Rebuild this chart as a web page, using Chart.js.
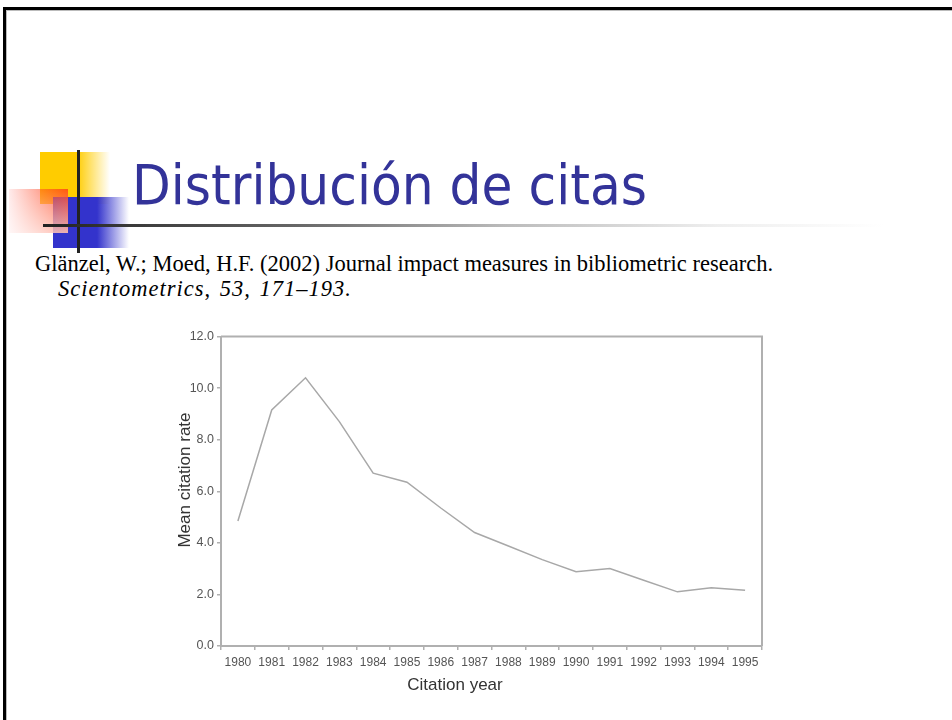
<!DOCTYPE html>
<html>
<head>
<meta charset="utf-8">
<script src="https://cdn.jsdelivr.net/npm/chart.js@4.4.0/dist/chart.umd.min.js"></script>
<style>
  html, body { margin: 0; padding: 0; background: #fff; overflow: hidden; }
  body { width: 952px; height: 720px; position: relative; }
  .frame { position: absolute; left: 3px; top: 7px; width: 1000px; height: 1000px; border: 3px solid #000; box-shadow: inset 1px 1px 0 #bbb; }
  .deco { position: absolute; }
  #yellow { left: 40px; top: 152px; width: 70px; height: 52px;
    background: linear-gradient(to right, #ffcc00 0%, #ffcc00 52%, rgba(255,204,0,0) 100%); }
  #blue { left: 53px; top: 197px; width: 76px; height: 51px;
    background: linear-gradient(to right, #3333cc 0%, #3333cc 58%, rgba(51,51,204,0) 100%); }
  #red { left: 9px; top: 189px; width: 59px; height: 44px;
    background: linear-gradient(to bottom, rgba(255,255,255,0) 0%, rgba(255,255,255,0.6) 100%),
                linear-gradient(to right, rgba(255,120,120,0.15) 0%, rgba(255,60,20,0.8) 100%); }
  #vline { left: 77px; top: 150px; width: 3px; height: 103px; background: #222; }
  #hline { left: 43px; top: 224px; width: 840px; height: 3px;
    background: linear-gradient(to right, #222 0%, #666 30%, #bbb 55%, #eee 80%, rgba(255,255,255,0) 100%); }
  #title { position: absolute; left: 132px; top: 158px; font-family: "DejaVu Sans", sans-serif;
    font-size: 55px; line-height: 55px; color: #333399; white-space: nowrap; transform-origin: 0 0; }
  .cite { position: absolute; font-family: "Liberation Serif", "Times New Roman", serif; font-size: 22.5px;
    color: #000; white-space: nowrap; line-height: 26px; }
  .axTitle { position: absolute; width: 200px; text-align: center; line-height: 20px;
    font-family: "Liberation Sans", Arial, sans-serif; font-size: 17px; color: #333; }
  #xTitle { left: 355px; top: 675px; }
  #yTitle { left: 85px; top: 470px; transform: rotate(-90deg); }
  #chartBox { position: absolute; left: 160px; top: 326px; width: 612px; height: 375px; }
</style>
</head>
<body>
<div class="frame"></div>
<div class="deco" id="yellow"></div>
<div class="deco" id="blue"></div>
<div class="deco" id="red"></div>
<div class="deco" id="vline"></div>
<div class="deco" id="hline"></div>
<div id="title">Distribución de citas</div>
<div class="cite" style="left:35px; top:251px;">Glänzel, W.; Moed, H.F. (2002) Journal impact measures in bibliometric research.</div>
<div class="cite" style="left:58px; top:276px; letter-spacing:1px; word-spacing:2px;"><i>Scientometrics</i>, <i>53, 171–193.</i></div>
<div id="chartBox"><canvas id="myChart"></canvas></div>
<div class="axTitle" id="xTitle">Citation year</div>
<div class="axTitle" id="yTitle">Mean citation rate</div>
<script>
// 제목 폭 맞추기
const title = document.getElementById('title');
const tw = title.getBoundingClientRect().width;
title.style.transform = 'scaleX(' + (515 / tw) + ')';

// 데이터
const years = ['1980', '1981', '1982', '1983', '1984', '1985', '1986', '1987',
               '1988', '1989', '1990', '1991', '1992', '1993', '1994', '1995'];
const meanCitationRate = [4.85, 9.15, 10.4, 8.7, 6.7, 6.35, 5.35, 4.4,
                          3.88, 3.35, 2.88, 3.0, 2.55, 2.1, 2.26, 2.16];
const yTicks = [0, 2, 4, 6, 8, 10, 12];

const axisColor = '#b0b0b0';
const tickFont = { family: 'Liberation Sans, Arial, sans-serif', size: 12 };

// 차트 테두리 (위/오른쪽)
const boxBorder = {
  id: 'boxBorder',
  beforeDatasetsDraw(chart) {
    const a = chart.chartArea, ctx = chart.ctx;
    ctx.save();
    ctx.strokeStyle = axisColor;
    ctx.lineWidth = 2;
    ctx.beginPath();
    ctx.moveTo(a.left, a.top);
    ctx.lineTo(a.right, a.top);
    ctx.lineTo(a.right, a.bottom);
    ctx.stroke();
    ctx.restore();
  }
};

const chartArea = document.getElementById('myChart').getContext('2d');
new Chart(chartArea, {
  type: 'line',
  data: {
    labels: years,
    datasets: [{
      data: meanCitationRate,
      borderColor: '#a8a8a8',
      borderWidth: 1.5,
      pointRadius: 0,
      tension: 0,
      fill: false
    }]
  },
  options: {
    responsive: true,
    maintainAspectRatio: false,
    animation: false,
    layout: { padding: { top: 10, right: 10, left: 0, bottom: 0 } },
    plugins: { legend: { display: false }, tooltip: { enabled: false } },
    scales: {
      x: {
        offset: true,
        grid: { offset: true, drawOnChartArea: false, tickLength: 4, color: axisColor, lineWidth: 1.5 },
        border: { color: axisColor, width: 2 },
        ticks: { color: '#555', font: tickFont, maxRotation: 0, autoSkip: false, padding: 5 },
        afterFit: s => { s.height = 55; }
      },
      y: {
        min: 0,
        max: 12,
        afterBuildTicks: s => { s.ticks = yTicks.map(v => ({ value: v })); },
        grid: { drawOnChartArea: false, tickLength: 4, color: axisColor, lineWidth: 1.5 },
        border: { color: axisColor, width: 2 },
        ticks: { color: '#555', font: { family: tickFont.family, size: 12.5 }, padding: 3, callback: v => v.toFixed(1) },
        afterFit: s => { s.width = 61; }
      }
    }
  },
  plugins: [boxBorder]
});
</script>
</body>
</html>
